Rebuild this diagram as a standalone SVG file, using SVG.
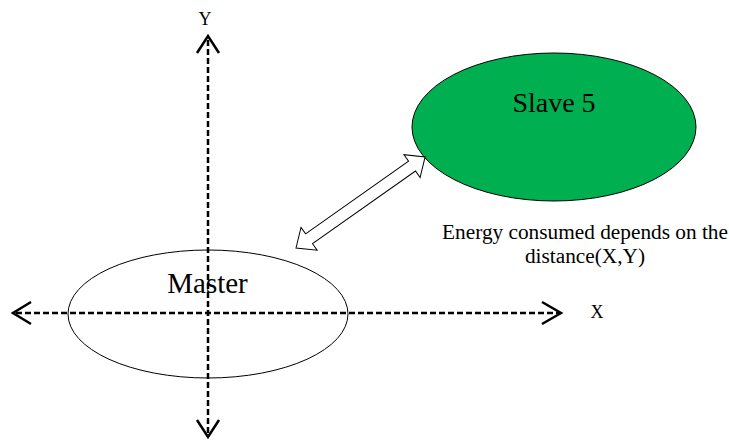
<svg xmlns="http://www.w3.org/2000/svg" width="729" height="440" viewBox="0 0 729 440">
<style>
.axis{stroke:#000;stroke-width:2.5;stroke-dasharray:6 3;fill:none}
.head{stroke:#000;stroke-width:2.5;fill:none}
.t{font-family:"Liberation Serif",serif;fill:#000}
</style>
<rect width="729" height="440" fill="#fff"/>
<g id="master">
<ellipse cx="208" cy="314" rx="140" ry="64" fill="#fff" stroke="#000" stroke-width="1"/>
</g>
<g id="slave5">
<ellipse cx="554" cy="127" rx="142" ry="74" fill="#00B050" stroke="#000" stroke-width="1"/>
<text class="t" x="554" y="112" font-size="28" text-anchor="middle">Slave 5</text>
</g>
<g id="connectors">
<line class="axis" x1="208" y1="40" x2="208" y2="434"/>
<polyline class="head" points="197,53 208,36 219,53"/>
<polyline class="head" points="197,420 208,437 219,420"/>
<line class="axis" x1="16" y1="313" x2="560" y2="313"/>
<polyline class="head" points="31,302 13,313 31,324"/>
<polyline class="head" points="542,302 561,313 542,324"/>
<polygon transform="translate(296,248) rotate(-35.2)" points="0,0 16,-14 16,-6 142,-6 142,-14 158,0 142,14 142,6 16,6 16,14" fill="#fff" stroke="#000" stroke-width="1"/>
</g>
<g id="labels">
<text class="t" x="207.5" y="293" font-size="29" text-anchor="middle">Master</text>
<text class="t" x="205" y="25" font-size="18" text-anchor="middle">Y</text>
<text class="t" x="597" y="318" font-size="18" text-anchor="middle">X</text>
<text class="t" x="585" y="239" font-size="21.3" text-anchor="middle">Energy consumed depends on the</text>
<text class="t" x="585" y="263" font-size="21.3" text-anchor="middle">distance(X,Y)</text>
</g>
</svg>
